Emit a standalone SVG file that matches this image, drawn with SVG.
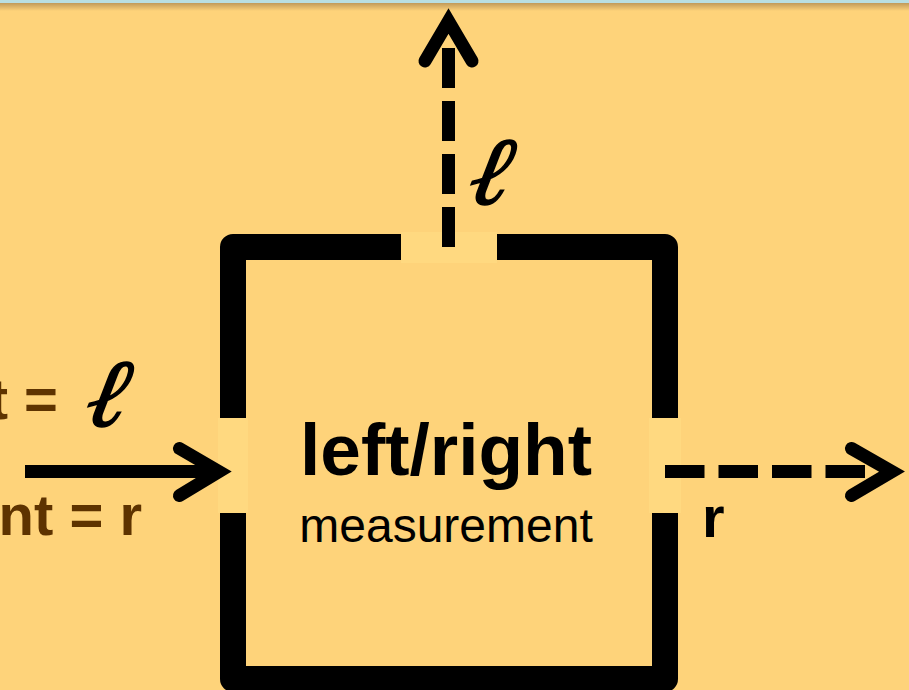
<svg xmlns="http://www.w3.org/2000/svg" width="909" height="690" viewBox="0 0 909 690">
<defs>
<linearGradient id="shade" x1="0" y1="0" x2="0" y2="1">
<stop offset="0" stop-color="#c09a5a"/>
<stop offset="1" stop-color="#fed37a"/>
</linearGradient>
</defs>
<style>
.bg{fill:#fed37a}
.gap{fill:#ffd980}
.box{fill:none;stroke:#000;stroke-width:26;stroke-linejoin:round}
.ln{fill:none;stroke:#000;stroke-width:13;stroke-linecap:butt}
.dash{stroke-dasharray:39.5 14}
.head{fill:none;stroke:#000;stroke-width:13;stroke-linecap:round;stroke-linejoin:miter;stroke-miterlimit:10}
.bold{font-family:"Liberation Sans",Arial,sans-serif;font-weight:bold}
.reg{font-family:"Liberation Sans",Arial,sans-serif}
.brown{fill:#5e3300}
.ell{font-family:"DejaVu Serif","Liberation Serif",serif;font-style:italic;fill:#000;stroke:#000;stroke-width:1.6}
</style>
<rect class="bg" x="0" y="0" width="909" height="690"/>
<rect x="0" y="0" width="909" height="3" fill="#b9dfe2"/>
<rect x="0" y="3" width="909" height="8" fill="url(#shade)"/>

<g id="node-box">
<rect class="box" x="233" y="247" width="432" height="432"/>
<rect class="gap" x="401" y="232" width="96" height="31"/>
<rect class="gap" x="218" y="418" width="30" height="95"/>
<rect class="gap" x="649" y="418" width="32" height="95"/>
<text class="bold" x="446" y="475" font-size="73" text-anchor="middle">left/right</text>
<text class="reg" x="446" y="542" font-size="48" text-anchor="middle">measurement</text>
</g>

<g id="connectors">
<line class="ln dash" x1="448.5" y1="247" x2="448.5" y2="48" style="stroke-dasharray:40 13"/>
<polyline class="head" points="425,61 448.5,21 472,61"/>
<line class="ln" x1="25" y1="471.5" x2="219" y2="471.5"/>
<polyline class="head" points="179.5,448.5 219,471.5 179.5,495.5"/>
<line class="ln dash" x1="665" y1="471.5" x2="865" y2="471.5"/>
<polyline class="head" points="851.5,448.5 892,471.5 851.5,495.5"/>
</g>

<g id="labels">
<text class="ell" font-size="96" transform="translate(465,204) skewX(-12)">ℓ</text>
<text class="bold" x="702" y="537" font-size="58">r</text>
<text class="bold brown" x="58" y="419" font-size="58" text-anchor="end">t =</text>
<text class="ell" font-size="96" transform="translate(82,426) skewX(-12)">ℓ</text>
<text class="bold brown" x="142" y="535" font-size="58" text-anchor="end">nt = r</text>
</g>
</svg>
